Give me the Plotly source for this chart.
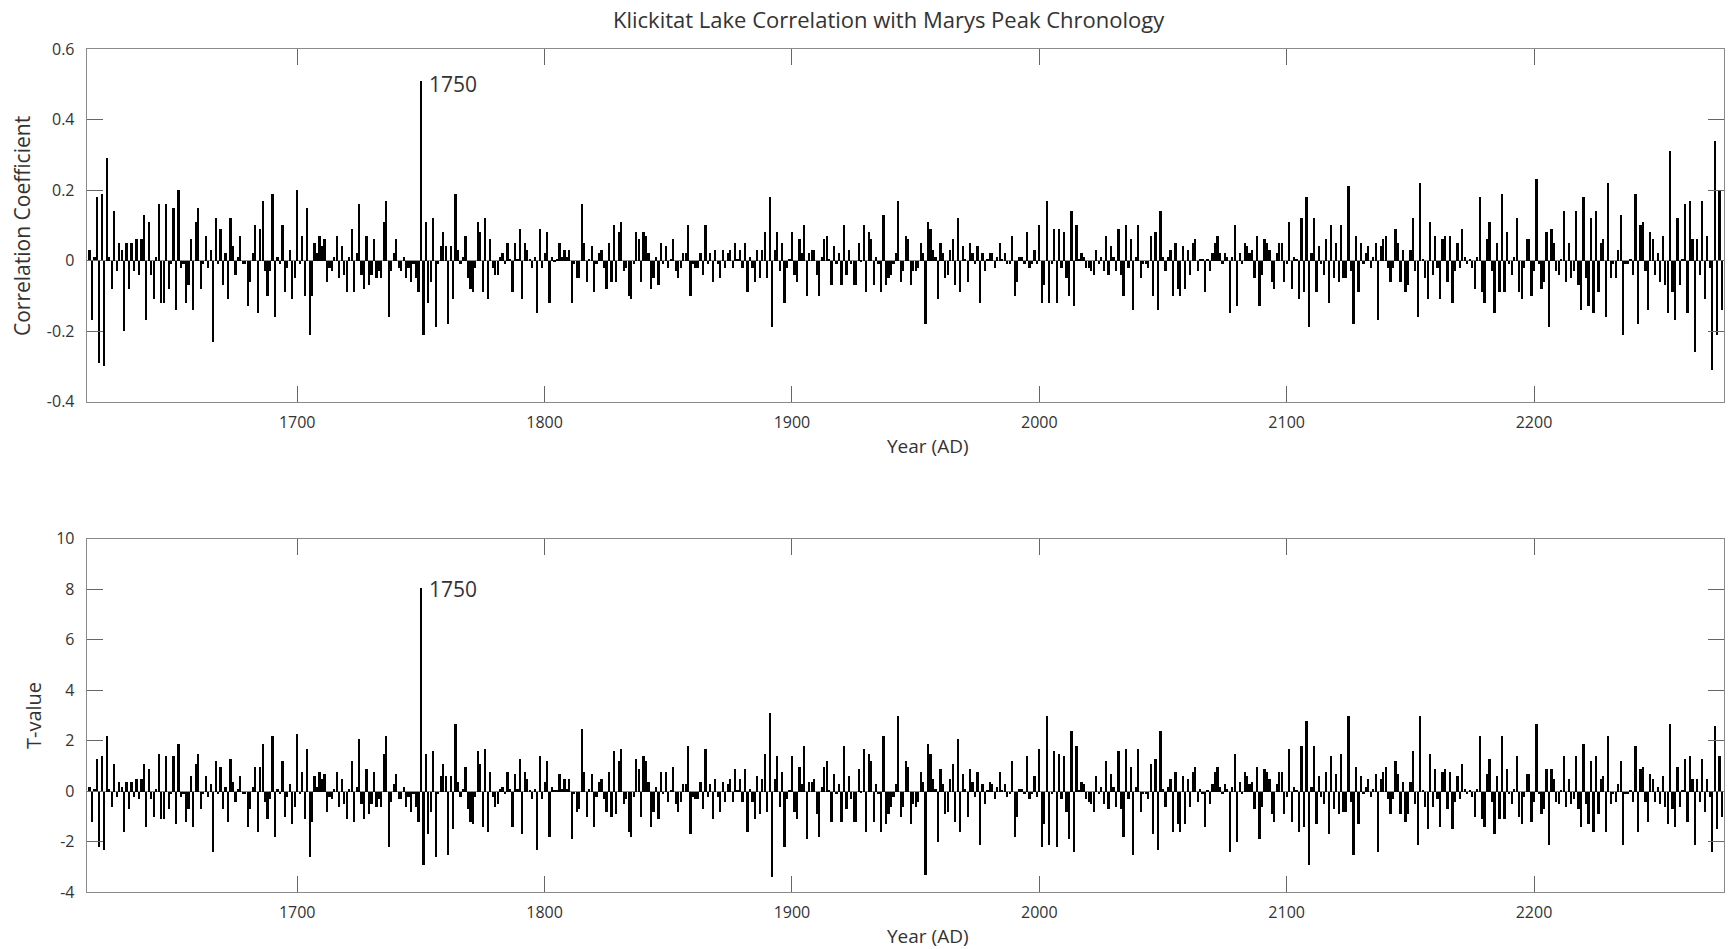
import plotly.graph_objects as go

START_YEAR = 1616

# Correlation coefficient per year (1616 .. 2276), one row = 10 years
corr = [
    0.03, -0.17, 0.01, 0.18, -0.29, 0.19, -0.30, 0.29, 0.01, -0.08,
    0.14, -0.03, 0.05, 0.03, -0.20, 0.05, -0.08, 0.05, -0.03, 0.06,
    -0.04, 0.06, 0.13, -0.17, 0.11, -0.04, -0.11, 0.01, 0.16, -0.12,
    -0.12, 0.16, -0.08, -0.01, 0.15, -0.14, 0.20, -0.02, -0.01, -0.12,
    -0.07, 0.06, -0.14, 0.11, 0.15, -0.08, -0.01, 0.07, -0.02, 0.03,
    -0.23, 0.12, -0.01, 0.09, -0.07, 0.02, -0.11, 0.12, 0.04, -0.04,
    0.01, 0.07, -0.01, -0.01, -0.13, -0.06, 0.02, 0.10, -0.15, 0.09,
    0.17, -0.03, -0.10, -0.03, 0.19, -0.16, 0.01, -0.01, 0.10, -0.09,
    -0.02, 0.03, -0.11, -0.05, 0.20, -0.01, 0.07, -0.10, 0.15, -0.21,
    -0.10, 0.05, 0.02, 0.07, 0.04, 0.06, -0.06, -0.02, -0.03, 0.01,
    0.07, -0.05, 0.04, -0.04, -0.09, 0.01, 0.09, -0.09, 0.02, 0.16,
    -0.04, -0.08, 0.07, -0.07, -0.04, 0.06, -0.05, -0.03, -0.05, 0.11,
    0.17, -0.16, -0.03, 0.02, 0.06, -0.02, -0.03, 0.01, -0.05, -0.02,
    -0.06, -0.01, -0.05, -0.09, 0.51, -0.21, 0.11, -0.12, -0.06, 0.12,
    -0.19, -0.01, 0.04, 0.08, 0.04, -0.18, 0.04, -0.11, 0.19, 0.03,
    -0.01, 0.01, 0.07, -0.05, -0.08, -0.09, -0.02, 0.11, 0.08, -0.09,
    0.12, -0.11, 0.06, -0.02, -0.04, -0.04, 0.01, 0.02, -0.01, 0.05,
    0.003, -0.09, 0.05, 0.003, 0.09, -0.11, 0.05, 0.03, 0.003, -0.02,
    0.01, -0.15, 0.09, -0.02, 0.02, 0.08, -0.12, 0.01, -0.005, 0.005,
    0.05, 0.01, 0.03, 0.01, 0.03, -0.12, -0.01, -0.05, -0.05, 0.16,
    0.05, -0.06, 0.005, 0.04, -0.09, -0.01, 0.02, 0.03, -0.02, -0.08,
    0.05, -0.06, 0.10, -0.06, 0.08, 0.11, -0.03, -0.02, -0.10, -0.11,
    -0.01, 0.08, 0.06, -0.06, 0.08, 0.07, 0.02, -0.08, -0.05, 0.01,
    -0.07, 0.05, -0.01, 0.04, -0.02, 0.005, 0.06, -0.03, -0.05, -0.02,
    0.02, 0.02, 0.10, -0.10, -0.01, -0.02, -0.02, 0.02, -0.04, 0.10,
    -0.01, 0.02, -0.06, 0.03, -0.01, -0.05, 0.03, -0.02, 0.02, 0.03,
    -0.02, 0.05, 0.005, 0.03, -0.02, 0.05, -0.09, 0.01, -0.02, -0.06,
    0.03, -0.05, 0.03, 0.08, -0.05, 0.18, -0.19, 0.03, 0.08, -0.03,
    0.05, -0.12, -0.02, 0.005, 0.08, -0.04, -0.06, 0.06, 0.02, 0.10,
    -0.10, 0.02, 0.03, 0.03, -0.04, -0.10, 0.01, 0.06, 0.07, 0.005,
    -0.07, 0.04, -0.01, 0.02, -0.07, 0.10, -0.04, 0.03, -0.01, -0.07,
    -0.07, 0.05, -0.005, 0.10, -0.09, 0.08, 0.06, -0.07, 0.01, -0.01,
    -0.09, 0.13, -0.07, -0.05, -0.04, -0.01, 0.02, 0.17, -0.06, -0.03,
    0.07, 0.06, -0.07, -0.03, -0.03, -0.02, 0.05, 0.02, -0.18, 0.11,
    0.09, 0.03, 0.01, -0.11, 0.05, 0.02, -0.05, -0.04, 0.03, 0.06,
    -0.07, 0.12, -0.09, 0.04, 0.005, -0.06, 0.05, 0.02, -0.01, 0.04,
    -0.12, 0.02, -0.03, 0.005, 0.02, 0.02, -0.02, 0.01, 0.05, 0.005,
    0.02, -0.01, -0.01, 0.07, -0.10, -0.06, 0.01, 0.01, -0.01, 0.08,
    -0.02, -0.01, 0.03, -0.01, 0.10, -0.12, -0.07, 0.17, -0.12, -0.01,
    0.09, -0.12, 0.09, -0.02, 0.08, -0.05, -0.10, 0.14, -0.13, 0.10,
    0.005, 0.02, 0.01, -0.02, -0.02, -0.03, -0.04, 0.03, -0.01, 0.01,
    -0.03, 0.07, -0.04, 0.04, 0.01, -0.03, 0.09, -0.04, -0.10, 0.10,
    -0.02, 0.06, -0.14, 0.01, 0.10, -0.05, -0.01, -0.01, -0.02, 0.07,
    -0.10, 0.08, -0.14, 0.14, 0.01, -0.03, 0.01, 0.03, -0.10, 0.05,
    -0.08, -0.10, 0.04, -0.08, 0.03, -0.04, 0.05, 0.06, -0.03, 0.005,
    0.005, -0.09, 0.005, -0.03, 0.02, 0.05, 0.07, 0.02, -0.01, 0.02,
    0.01, -0.15, 0.01, 0.10, -0.13, 0.02, -0.01, 0.05, 0.04, 0.02,
    0.03, -0.05, 0.07, -0.13, -0.04, 0.06, 0.05, 0.03, -0.06, -0.08,
    0.02, 0.05, 0.05, -0.06, -0.01, 0.11, -0.08, 0.01, 0.005, -0.11,
    0.12, -0.09, 0.18, -0.19, 0.02, 0.12, -0.09, 0.04, -0.01, -0.04,
    0.06, -0.12, 0.10, -0.05, 0.05, -0.06, 0.10, -0.05, -0.05, 0.21,
    -0.03, -0.18, 0.07, -0.09, 0.05, -0.01, 0.02, 0.04, -0.02, 0.01,
    0.05, -0.17, 0.04, 0.06, 0.07, -0.02, -0.06, -0.02, 0.09, 0.05,
    -0.06, 0.03, -0.09, -0.07, 0.03, 0.12, -0.03, -0.16, 0.22, 0.005,
    -0.05, -0.11, 0.11, -0.04, 0.07, -0.02, -0.11, 0.06, 0.07, -0.06,
    0.07, -0.12, -0.03, 0.05, -0.02, 0.09, 0.01, -0.01, 0.005, -0.02,
    -0.08, 0.01, 0.18, -0.09, -0.12, 0.06, 0.11, -0.03, -0.15, 0.05,
    -0.09, 0.19, -0.09, 0.08, -0.01, -0.04, 0.01, 0.12, -0.09, -0.11,
    -0.02, 0.06, 0.06, -0.10, -0.03, 0.23, -0.01, -0.08, -0.06, 0.08,
    -0.19, 0.09, 0.05, -0.03, -0.04, 0.005, 0.14, -0.06, 0.05, -0.05,
    -0.03, 0.14, -0.07, -0.14, 0.18, -0.05, -0.13, 0.12, -0.15, 0.14,
    -0.09, 0.05, 0.06, -0.16, 0.22, -0.05, -0.01, -0.05, 0.03, 0.13,
    -0.21, -0.01, -0.01, 0.005, -0.04, 0.19, -0.18, 0.10, 0.11, -0.03,
    -0.14, 0.08, 0.06, -0.04, 0.02, -0.06, 0.07, -0.07, -0.15, 0.31,
    -0.09, -0.17, 0.12, -0.07, 0.005, 0.16, -0.15, 0.17, 0.06, -0.26,
    0.06, -0.04, 0.17, -0.11, 0.07, -0.02, -0.31, 0.34, -0.21, 0.20,
    -0.14,
]

# T-value per year (1616 .. 2276), one row = 10 years
tval = [
    0.17, -1.19, 0.08, 1.28, -2.20, 1.39, -2.30, 2.19, 0.08, -0.61,
    1.09, -0.20, 0.38, 0.19, -1.60, 0.38, -0.70, 0.38, -0.20, 0.49,
    -0.30, 0.49, 1.09, -1.40, 0.89, -0.30, -1.01, 0.08, 1.50, -1.10,
    -1.10, 1.39, -0.70, -0.11, 1.39, -1.30, 1.89, -0.20, -0.11, -1.19,
    -0.70, 0.60, -1.40, 1.09, 1.50, -0.70, -0.11, 0.60, -0.20, 0.29,
    -2.40, 1.19, -0.11, 0.99, -0.70, 0.19, -1.19, 1.28, 0.38, -0.41,
    0.08, 0.60, -0.11, -0.11, -1.40, -0.70, 0.19, 0.99, -1.60, 0.99,
    1.89, -0.41, -1.10, -0.30, 2.19, -1.80, 0.08, -0.11, 1.19, -1.01,
    -0.20, 0.29, -1.30, -0.61, 2.29, -0.11, 0.79, -1.10, 1.70, -2.61,
    -1.19, 0.60, 0.17, 0.79, 0.49, 0.69, -0.81, -0.20, -0.30, 0.08,
    0.79, -0.61, 0.49, -0.50, -1.10, 0.08, 1.19, -1.19, 0.17, 2.09,
    -0.50, -1.10, 0.90, -0.90, -0.50, 0.79, -0.61, -0.30, -0.61, 1.50,
    2.19, -2.20, -0.41, 0.29, 0.69, -0.30, -0.30, 0.19, -0.61, -0.20,
    -0.81, -0.11, -0.61, -1.19, 8.05, -2.90, 1.50, -1.70, -0.81, 1.59,
    -2.61, -0.11, 0.60, 1.09, 0.60, -2.50, 0.60, -1.50, 2.69, 0.38,
    -0.20, 0.08, 0.99, -0.70, -1.21, -1.30, -0.20, 1.59, 1.09, -1.40,
    1.70, -1.60, 0.79, -0.20, -0.61, -0.50, 0.08, 0.19, -0.11, 0.79,
    0.08, -1.40, 0.69, 0.08, 1.30, -1.70, 0.79, 0.49, 0.05, -0.30,
    0.08, -2.30, 1.39, -0.30, 0.38, 1.19, -1.80, 0.19, 0.03, 0.03,
    0.69, 0.08, 0.49, 0.08, 0.49, -1.89, -0.11, -0.81, -0.70, 2.49,
    0.79, -1.01, 0.08, 0.69, -1.40, -0.20, 0.38, 0.49, -0.30, -0.81,
    0.79, -1.01, 1.59, -0.90, 1.19, 1.70, -0.50, -0.30, -1.60, -1.80,
    -0.20, 1.28, 0.89, -1.01, 1.39, 1.19, 0.38, -1.40, -0.81, 0.19,
    -1.10, 0.79, -0.11, 0.79, -0.41, 0.03, 0.99, -0.50, -0.81, -0.41,
    0.29, 0.29, 1.79, -1.70, -0.20, -0.30, -0.30, 0.38, -0.70, 1.70,
    -0.20, 0.29, -1.10, 0.49, -0.20, -0.81, 0.38, -0.41, 0.29, 0.49,
    -0.41, 0.89, 0.03, 0.49, -0.41, 0.89, -1.60, 0.08, -0.41, -1.10,
    0.60, -0.90, 0.49, 1.50, -0.81, 3.09, -3.40, 0.49, 1.39, -0.61,
    0.79, -2.20, -0.30, 0.03, 1.39, -0.81, -1.10, 0.99, 0.29, 1.79,
    -1.89, 0.38, 0.38, 0.49, -0.90, -1.80, 0.19, 0.99, 1.19, 0.03,
    -1.19, 0.69, -0.11, 0.29, -1.19, 1.79, -0.70, 0.60, -0.30, -1.19,
    -1.19, 0.89, -0.03, 1.70, -1.60, 1.50, 1.19, -1.19, 0.29, -0.11,
    -1.60, 2.19, -1.30, -0.90, -0.61, -0.20, 0.29, 2.99, -1.01, -0.61,
    1.19, 0.99, -1.30, -0.50, -0.61, -0.41, 0.79, 0.38, -3.30, 1.89,
    1.50, 0.49, 0.08, -2.00, 0.89, 0.29, -0.90, -0.81, 0.49, 1.09,
    -1.19, 2.09, -1.60, 0.69, 0.08, -1.01, 0.89, 0.38, -0.20, 0.79,
    -2.11, 0.29, -0.50, 0.03, 0.38, 0.29, -0.30, 0.19, 0.79, 0.05,
    0.29, -0.20, -0.11, 1.19, -1.80, -1.01, 0.08, 0.08, -0.11, 1.39,
    -0.30, -0.11, 0.60, -0.20, 1.70, -2.20, -1.30, 2.99, -2.11, -0.11,
    1.59, -2.20, 1.50, -0.30, 1.39, -0.81, -1.89, 2.40, -2.40, 1.79,
    0.03, 0.38, 0.29, -0.30, -0.41, -0.50, -0.81, 0.60, -0.11, 0.19,
    -0.50, 1.19, -0.70, 0.69, 0.19, -0.61, 1.59, -0.70, -1.80, 1.70,
    -0.30, 0.99, -2.50, 0.19, 1.70, -0.81, -0.11, -0.11, -0.30, 1.09,
    -1.70, 1.28, -2.30, 2.40, 0.08, -0.61, 0.19, 0.49, -1.60, 0.79,
    -1.30, -1.60, 0.60, -1.30, 0.49, -0.61, 0.79, 0.99, -0.41, 0.08,
    -0.11, -1.40, 0.03, -0.50, 0.29, 0.79, 0.99, 0.19, -0.11, 0.29,
    0.08, -2.40, 0.19, 1.50, -2.00, 0.38, -0.11, 0.79, 0.60, 0.29,
    0.38, -0.70, 0.99, -1.89, -0.61, 0.89, 0.79, 0.49, -0.90, -1.19,
    0.29, 0.79, 0.79, -0.90, -0.20, 1.70, -1.19, 0.19, 0.03, -1.60,
    1.79, -1.40, 2.79, -2.90, 0.19, 1.79, -1.30, 0.60, -0.20, -0.50,
    0.79, -1.70, 1.39, -0.70, 0.69, -0.90, 1.50, -0.81, -0.81, 2.99,
    -0.41, -2.50, 0.99, -1.30, 0.60, -0.11, 0.19, 0.49, -0.20, 0.08,
    0.69, -2.40, 0.49, 0.79, 0.99, -0.30, -0.90, -0.30, 1.19, 0.69,
    -0.90, 0.38, -1.19, -0.90, 0.38, 1.59, -0.50, -2.11, 2.99, 0.03,
    -0.61, -1.50, 1.50, -0.61, 0.89, -0.30, -1.40, 0.79, 0.89, -0.70,
    0.79, -1.50, -0.41, 0.60, -0.30, 1.09, 0.08, -0.11, 0.03, -0.20,
    -1.01, 0.08, 2.19, -1.10, -1.40, 0.69, 1.28, -0.41, -1.70, 0.60,
    -1.10, 2.19, -1.10, 0.89, -0.11, -0.50, 0.08, 1.39, -1.01, -1.30,
    -0.20, 0.69, 0.69, -1.19, -0.41, 2.69, -0.11, -0.90, -0.70, 0.89,
    -2.11, 0.89, 0.49, -0.41, -0.50, 0.03, 1.39, -0.61, 0.49, -0.50,
    -0.30, 1.39, -0.70, -1.40, 1.89, -0.50, -1.30, 1.19, -1.60, 1.39,
    -0.90, 0.49, 0.60, -1.60, 2.19, -0.50, -0.11, -0.41, 0.29, 1.19,
    -2.11, -0.11, -0.11, 0.03, -0.41, 1.79, -1.60, 0.89, 0.99, -0.41,
    -1.19, 0.69, 0.49, -0.41, 0.19, -0.50, 0.60, -0.61, -1.30, 2.69,
    -0.70, -1.40, 0.99, -0.61, 0.03, 1.28, -1.19, 1.39, 0.49, -2.11,
    0.49, -0.41, 1.28, -0.81, 0.49, -0.20, -2.40, 2.60, -1.50, 1.39,
    -1.01,
]

years = list(range(START_YEAR, START_YEAR + len(corr)))
years_t = list(range(START_YEAR, START_YEAR + len(tval)))

x_ticks = [1700, 1800, 1900, 2000, 2100, 2200]
y1_ticks = [-0.4, -0.2, 0, 0.2, 0.4, 0.6]
y1_text = ["-0.4", "-0.2", "0", "0.2", "0.4", "0.6"]
y2_ticks = [-4, -2, 0, 2, 4, 6, 8, 10]
y2_text = ["-4", "-2", "0", "2", "4", "6", "8", "10"]
peak_year = 1750

W, H = 1728, 949
FONT = "Open Sans"
TXT = "#333333"


def px(x):
    return x / W


def py(y):
    return 1 - y / H


fig = go.Figure()
fig.add_trace(go.Bar(x=years, y=corr, width=0.7, marker=dict(color="black", line=dict(width=0)),
                     xaxis="x", yaxis="y", showlegend=False, hoverinfo="x+y"))
fig.add_trace(go.Bar(x=years_t, y=tval, width=0.7, marker=dict(color="black", line=dict(width=0)),
                     xaxis="x2", yaxis="y2", showlegend=False, hoverinfo="x+y"))

common = dict(showline=True, linecolor="#8a8a8a", linewidth=1, mirror="ticks", ticks="inside",
              ticklen=16, tickcolor="#666666", tickwidth=1, showgrid=False, automargin=False,
              tickfont=dict(family=FONT, size=16, color=TXT))
xdom = [px(86.7), px(1724)]
xr = [1614.9, 2276.8]

fig.update_layout(
    width=W, height=H, autosize=False,
    margin=dict(l=0, r=0, t=0, b=0, pad=0),
    paper_bgcolor="white", plot_bgcolor="white",
    bargap=0,
    font=dict(family=FONT, color=TXT),
    xaxis=dict(domain=xdom, range=xr, anchor="y", tickvals=x_ticks,
               ticktext=[str(v) for v in x_ticks], ticklabelstandoff=6, **common),
    yaxis=dict(domain=[py(401.7), py(49.2)], range=[-0.4, 0.6], anchor="x",
               tickvals=y1_ticks, ticktext=y1_text, zeroline=True, zerolinecolor="#8a8a8a",
               zerolinewidth=1, ticklabelstandoff=8, **common),
    xaxis2=dict(domain=xdom, range=xr, anchor="y2", tickvals=x_ticks,
                ticktext=[str(v) for v in x_ticks], ticklabelstandoff=6, **common),
    yaxis2=dict(domain=[py(892), py(538.5)], range=[-4, 10], anchor="x2",
                tickvals=y2_ticks, ticktext=y2_text, zeroline=True, zerolinecolor="#8a8a8a",
                zerolinewidth=1, ticklabelstandoff=8, **common),
)

ann = []
ann.append(dict(text="Klickitat Lake Correlation with Marys Peak Chronology", x=px(889), y=py(19),
                xref="paper", yref="paper", showarrow=False, xanchor="center", yanchor="middle",
                font=dict(family=FONT, size=22, color=TXT)))
ann.append(dict(text="Year (AD)", x=px(928), y=py(446), xref="paper", yref="paper", showarrow=False,
                xanchor="center", yanchor="middle", font=dict(family=FONT, size=19, color=TXT)))
ann.append(dict(text="Year (AD)", x=px(928), y=py(936), xref="paper", yref="paper", showarrow=False,
                xanchor="center", yanchor="middle", font=dict(family=FONT, size=19, color=TXT)))
ann.append(dict(text="Correlation Coefficient", x=px(22), y=py(226), xref="paper", yref="paper",
                showarrow=False, textangle=-90, xanchor="center", yanchor="middle",
                font=dict(family=FONT, size=21, color=TXT)))
ann.append(dict(text="T-value", x=px(33), y=py(716), xref="paper", yref="paper",
                showarrow=False, textangle=-90, xanchor="center", yanchor="middle",
                font=dict(family=FONT, size=20, color=TXT)))
ann.append(dict(text=str(peak_year), x=peak_year + 2.5, y=0.5, xref="x", yref="y", showarrow=False,
                xanchor="left", yanchor="middle", font=dict(family=FONT, size=21, color=TXT)))
ann.append(dict(text=str(peak_year), x=peak_year + 2.5, y=8.0, xref="x2", yref="y2", showarrow=False,
                xanchor="left", yanchor="middle", font=dict(family=FONT, size=21, color=TXT)))
fig.update_layout(annotations=ann)

fig.write_html("out.html")
